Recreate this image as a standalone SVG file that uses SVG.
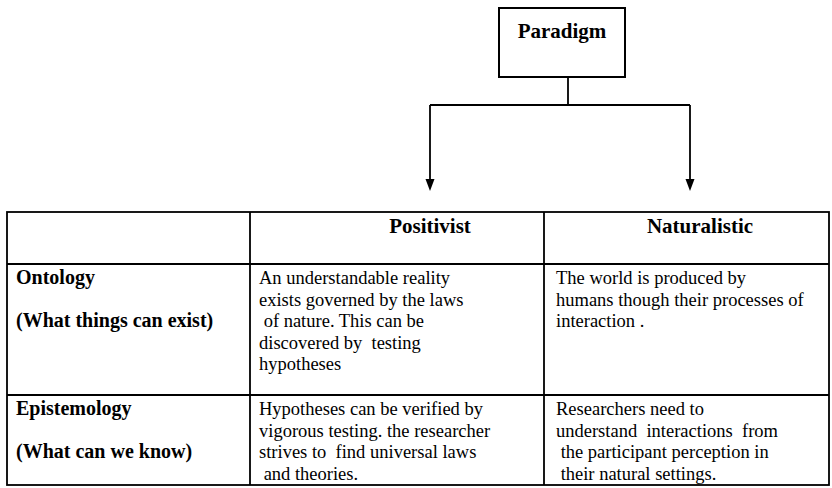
<svg xmlns="http://www.w3.org/2000/svg" width="832" height="488" viewBox="0 0 832 488">
  <style>
    .ln { stroke: #000; stroke-width: 1.8; fill: none; }
    .box { stroke: #000; stroke-width: 2; fill: #fff; }
    .hd { font-weight: bold; font-size: 21px; fill: #000; }
    .lb { font-weight: bold; font-size: 20px; fill: #000; }
    .tx { font-size: 18.5px; fill: #000; white-space: pre; }
  </style>

  <rect width="832" height="488" fill="#fff"/>

  <g font-family="'Liberation Serif', 'Times New Roman', 'DejaVu Serif', serif">
    <!-- root node -->
    <g id="paradigm">
      <rect class="box" x="499" y="8" width="126" height="69"/>
      <text class="hd" x="562" y="38" text-anchor="middle" font-size="22">Paradigm</text>
    </g>

    <!-- connectors -->
    <g id="connectors">
      <path class="ln" d="M568,77 V105 M430,105 H690"/>
      <path class="ln" d="M430,105 V180"/>
      <path class="ln" d="M690,105 V180"/>
      <path d="M425.5,179 L434.5,179 L430,191 Z" fill="#000"/>
      <path d="M685.5,179 L694.5,179 L690,191 Z" fill="#000"/>
    </g>

    <!-- comparison table grid -->
    <g id="table">
      <rect class="ln" x="7" y="212" width="822" height="273"/>
      <path class="ln" d="M7,264 H829 M7,395 H829 M250,212 V485 M544,212 V485"/>
    </g>

    <g id="head-positivist">
      <text class="hd" x="430" y="233" text-anchor="middle">Positivist</text>
    </g>
    <g id="head-naturalistic">
      <text class="hd" x="700" y="233" text-anchor="middle">Naturalistic</text>
    </g>

    <g id="row-ontology">
      <text class="lb" x="16" y="284">Ontology</text>
      <text class="lb" x="16" y="327">(What things can exist)</text>
    </g>
    <g id="ontology-positivist">
      <text class="tx" x="259" y="284">An understandable reality</text>
      <text class="tx" x="259" y="305.5">exists governed by the laws</text>
      <text class="tx" x="259" y="327"> of nature. This can be</text>
      <text class="tx" x="259" y="348.5">discovered by  testing</text>
      <text class="tx" x="259" y="370">hypotheses</text>
    </g>
    <g id="ontology-naturalistic">
      <text class="tx" x="556" y="284">The world is produced by</text>
      <text class="tx" x="556" y="305.5">humans though their processes of</text>
      <text class="tx" x="556" y="327">interaction .</text>
    </g>

    <g id="row-epistemology">
      <text class="lb" x="16" y="415">Epistemology</text>
      <text class="lb" x="16" y="458">(What can we know)</text>
    </g>
    <g id="epistemology-positivist">
      <text class="tx" x="259" y="415">Hypotheses can be verified by</text>
      <text class="tx" x="259" y="436.5">vigorous testing. the researcher</text>
      <text class="tx" x="259" y="458">strives to  find universal laws</text>
      <text class="tx" x="259" y="479.5"> and theories.</text>
    </g>
    <g id="epistemology-naturalistic">
      <text class="tx" x="556" y="415">Researchers need to</text>
      <text class="tx" x="556" y="436.5">understand  interactions  from</text>
      <text class="tx" x="556" y="458"> the participant perception in</text>
      <text class="tx" x="556" y="479.5"> their natural settings.</text>
    </g>
  </g>
</svg>
